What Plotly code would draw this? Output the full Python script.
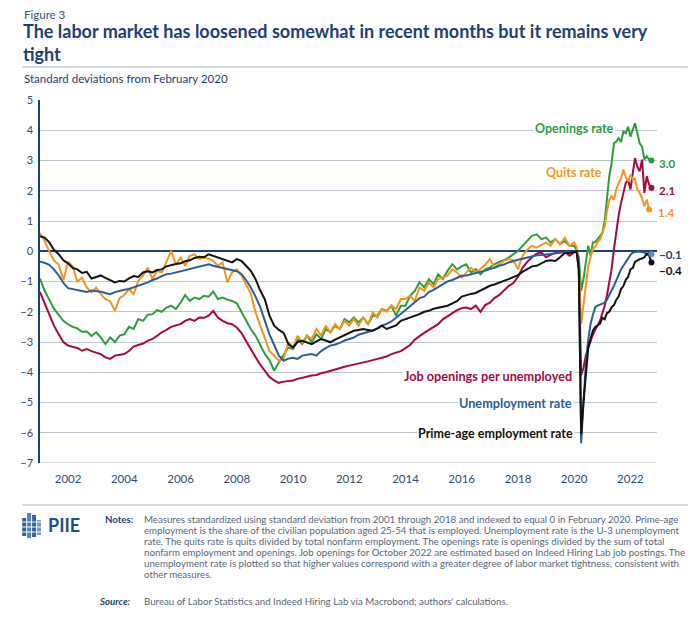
import plotly.graph_objects as go

# ---------------- data ----------------
dates_early = [f"{y}-{m:02d}-01" for y in range(2001, 2020) for m in (1, 3, 5, 7, 9, 11)]
dates_late = [f"{y}-{m:02d}-01" for y in (2020, 2021, 2022) for m in range(1, 13)][:34]
dates = dates_early + dates_late

prime_age_employment = [
    0.50, 0.45, 0.30, 0.05, -0.10, -0.30,
    -0.40, -0.55, -0.60, -0.72, -0.68, -0.90,
    -0.85, -0.80, -0.88, -0.95, -1.03, -0.98,
    -1.00, -0.90, -0.82, -0.85, -0.70, -0.66,
    -0.70, -0.62, -0.60, -0.50, -0.45, -0.42,
    -0.40, -0.33, -0.30, -0.22, -0.18, -0.20,
    -0.10, -0.15, -0.20, -0.26, -0.33, -0.37,
    -0.26, -0.32, -0.48, -0.65, -0.92, -1.30,
    -1.60, -2.13, -2.46, -2.60, -2.70, -3.07,
    -3.18, -3.00, -2.96, -3.02, -3.07, -2.98,
    -2.90, -2.95, -3.01, -2.92, -2.85, -2.79,
    -2.72, -2.63, -2.60, -2.57, -2.60, -2.63,
    -2.55, -2.46, -2.57, -2.52, -2.45, -2.30,
    -2.25, -2.20, -2.15, -2.08, -2.00, -1.97,
    -1.90, -1.86, -1.82, -1.80, -1.72, -1.65,
    -1.50, -1.45, -1.41, -1.38, -1.30, -1.22,
    -1.14, -1.10, -1.03, -0.98, -0.92, -0.85,
    -0.79, -0.68, -0.59, -0.50, -0.48, -0.40,
    -0.32, -0.30, -0.32, -0.20, -0.06, -0.06,
    -0.02, 0.00, -0.60, -6.05, -5.00, -4.00, -3.20, -2.90, -2.62, -2.50, -2.46, -2.40,
    -2.20, -2.25, -2.05, -2.00, -1.85, -1.78, -1.60, -1.50, -1.25, -1.15, -0.95, -0.85,
    -0.60, -0.55, -0.35, -0.30, -0.26, -0.24, -0.20, -0.08, -0.15, -0.37,
]

unemployment_rate = [
    -0.35, -0.38, -0.45, -0.60, -0.80, -1.05,
    -1.22, -1.25, -1.30, -1.33, -1.35, -1.30,
    -1.31, -1.34, -1.38, -1.42, -1.35, -1.30,
    -1.27, -1.25, -1.20, -1.14, -1.08, -1.03,
    -0.95, -0.90, -0.82, -0.76, -0.74, -0.70,
    -0.68, -0.62, -0.58, -0.54, -0.50, -0.46,
    -0.43, -0.48, -0.52, -0.54, -0.58, -0.62,
    -0.66, -0.75, -0.95, -1.20, -1.50, -1.85,
    -2.30, -2.75, -3.10, -3.45, -3.62, -3.55,
    -3.52, -3.56, -3.45, -3.42, -3.40, -3.45,
    -3.30, -3.20, -3.12, -3.08, -3.03, -2.95,
    -2.90, -2.85, -2.76, -2.72, -2.66, -2.62,
    -2.55, -2.46, -2.40, -2.32, -2.20, -2.08,
    -1.95, -1.82, -1.69, -1.55, -1.50, -1.35,
    -1.28, -1.18, -1.09, -1.00, -0.95, -0.88,
    -0.81, -0.80, -0.76, -0.74, -0.70, -0.64,
    -0.59, -0.55, -0.48, -0.44, -0.37, -0.32,
    -0.28, -0.25, -0.21, -0.17, -0.13, -0.12,
    -0.10, -0.10, -0.06, -0.04, -0.02, -0.02,
    -0.01, 0.00, -0.30, -6.35, -5.00, -3.70, -2.95, -2.40, -2.10, -1.85, -1.80, -1.76,
    -1.74, -1.70, -1.60, -1.47, -1.30, -1.14, -0.95, -0.81, -0.60, -0.48, -0.35, -0.22,
    -0.12, -0.04, -0.02, -0.02, -0.02, -0.04, -0.04, -0.10, -0.04, -0.10,
]

quits_rate = [
    0.60, 0.35, 0.00, -0.30, -0.45, -0.95,
    -0.35, -0.50, -1.00, -0.87, -1.20, -1.36,
    -1.20, -1.42, -1.58, -1.65, -1.97, -1.55,
    -1.45, -1.25, -1.42, -0.98, -0.81, -0.54,
    -0.92, -0.65, -0.70, -0.32, 0.01, -0.43,
    -0.21, -0.48, -0.15, -0.10, -0.26, -0.21,
    -0.25, -0.32, -0.48, -0.37, -1.03, -0.70,
    -0.60, -0.80, -1.10, -1.40, -2.02, -2.45,
    -2.90, -3.30, -3.45, -3.62, -3.55, -3.00,
    -3.18, -2.80, -3.01, -2.79, -2.90, -2.57,
    -2.79, -2.46, -2.68, -2.41, -2.57, -2.30,
    -2.46, -2.24, -2.46, -2.19, -2.41, -2.02,
    -2.19, -1.91, -2.00, -1.80, -1.91, -1.58,
    -1.58, -1.47, -1.64, -1.20, -1.31, -1.03,
    -1.20, -0.92, -0.87, -0.81, -0.59, -0.70,
    -0.87, -0.70, -0.54, -0.70, -0.59, -0.45,
    -0.26, -0.54, -0.43, -0.32, -0.26, -0.30,
    -0.59, -0.15, 0.05, 0.18, 0.12, 0.20,
    0.29, 0.18, 0.40, 0.23, 0.45, 0.18,
    0.29, 0.15, -0.40, -2.40, -1.80, -1.00, -0.50, -0.20, 0.07, 0.15, 0.30, 0.39,
    0.60, 0.83, 1.30, 1.70, 1.82, 1.70, 2.04, 2.26, 2.40, 2.70, 2.45, 2.31,
    2.53, 2.37, 2.40, 2.04, 1.93, 1.75, 1.49, 1.71, 1.38, None,
]

openings_rate = [
    -0.90, -1.30, -1.60, -1.90, -2.10, -2.30,
    -2.42, -2.50, -2.55, -2.66, -2.65, -2.80,
    -2.68, -2.85, -3.07, -2.85, -3.00, -2.79,
    -2.75, -2.50, -2.57, -2.24, -2.30, -2.10,
    -2.08, -1.95, -2.00, -1.86, -1.80, -1.91,
    -1.70, -1.45, -1.64, -1.53, -1.58, -1.47,
    -1.50, -1.33, -1.58, -1.53, -1.60, -1.64,
    -1.72, -2.00, -2.24, -2.57, -2.79, -3.12,
    -3.40, -3.60, -3.95, -3.67, -3.40, -3.18,
    -3.23, -2.90, -3.07, -2.79, -3.01, -2.74,
    -2.90, -2.57, -2.68, -2.46, -2.57, -2.24,
    -2.35, -2.19, -2.35, -2.19, -2.41, -2.13,
    -2.13, -1.91, -1.97, -1.80, -2.13, -1.80,
    -1.80, -1.47, -1.31, -1.03, -1.20, -0.92,
    -1.09, -0.76, -0.92, -0.65, -0.43, -0.60,
    -0.50, -0.43, -0.70, -0.59, -0.76, -0.60,
    -0.54, -0.43, -0.35, -0.30, -0.21, -0.10,
    0.01, 0.18, 0.34, 0.51, 0.56, 0.40,
    0.45, 0.29, 0.40, 0.23, 0.34, 0.18,
    0.18, 0.05, -0.20, -1.30, -0.92, -0.30, 0.18, -0.15, 0.29, 0.30, 0.39, 0.50,
    0.61, 1.00, 1.71, 2.48, 2.92, 3.57, 3.63, 3.74, 3.60, 3.96, 3.90, 4.12,
    3.79, 4.00, 4.23, 3.90, 3.57, 3.46, 3.03, 3.14, 3.03, 3.00,
]

openings_per_unemployed = [
    -1.35, -1.70, -2.05, -2.46, -2.74, -3.00,
    -3.12, -3.15, -3.20, -3.29, -3.23, -3.30,
    -3.34, -3.40, -3.51, -3.56, -3.45, -3.42,
    -3.40, -3.30, -3.15, -3.10, -3.05, -2.96,
    -2.90, -2.80, -2.68, -2.60, -2.50, -2.45,
    -2.41, -2.30, -2.24, -2.30, -2.19, -2.20,
    -2.13, -1.97, -2.19, -2.30, -2.38, -2.41,
    -2.52, -2.70, -2.95, -3.23, -3.50, -3.75,
    -3.95, -4.16, -4.27, -4.35, -4.31, -4.29,
    -4.27, -4.22, -4.18, -4.14, -4.11, -4.09,
    -4.03, -4.00, -3.95, -3.90, -3.86, -3.82,
    -3.78, -3.75, -3.72, -3.68, -3.64, -3.60,
    -3.56, -3.52, -3.48, -3.40, -3.34, -3.30,
    -3.20, -3.10, -2.92, -2.80, -2.70, -2.60,
    -2.50, -2.41, -2.25, -2.15, -2.05, -1.95,
    -1.88, -1.86, -1.91, -1.80, -2.00, -1.78,
    -1.70, -1.55, -1.45, -1.30, -1.15, -1.05,
    -0.85, -0.55, -0.35, -0.20, -0.08, -0.04,
    -0.20, -0.12, -0.05, 0.01, -0.02, -0.15,
    -0.04, 0.00, -0.60, -4.10, -3.85, -3.45, -3.20, -2.95, -2.75, -2.60, -2.46, -2.30,
    -2.05, -1.80, -1.47, -1.03, -0.59, 0.07, 0.72, 1.20, 1.60, 1.90, 2.26, 2.37,
    2.04, 2.60, 3.08, 2.80, 2.64, 3.03, 1.93, 2.48, 2.20, 2.10,
]

x_tick_years = [2002, 2004, 2006, 2008, 2010, 2012, 2014, 2016, 2018, 2020, 2022]
x_tick_labels = [str(y) for y in x_tick_years]
y_ticks = list(range(-7, 6))

end_labels = {"openings": "3.0", "ratio": "2.1", "quits": "1.4", "unemp": "\u22120.1", "emp": "\u22120.4"}

# ---------------- style ----------------
GREEN = "#2a9d3c"
ORANGE = "#f7941d"
CRIMSON = "#a8093f"
BLUE = "#2a5e94"
BLACK = "#111111"
NAVY = "#1d4074"
GRID = "#bcc7d3"
NOTE = "#56667a"
FONT = "Lato"

# page offset (browser body margin)
OFF = 8
# plot area in page pixels
L, R, T, B = 33, 657, 100, 463
W, H = R - L, B - T
FIG_W, FIG_H = 700 - OFF, 620 - OFF


def px(xp):
    return (xp - L) / W


def py(yp):
    return (B - yp) / H


series = [
    ("Job openings per unemployed", openings_per_unemployed, CRIMSON),
    ("Openings rate", openings_rate, GREEN),
    ("Quits rate", quits_rate, ORANGE),
    ("Unemployment rate", unemployment_rate, BLUE),
    ("Prime-age employment rate", prime_age_employment, BLACK),
]

fig = go.Figure()
for name, vals, col in series:
    fig.add_trace(go.Scatter(x=dates, y=vals, mode="lines", name=name,
                             line=dict(color=col, width=2), hoverinfo="skip"))
end_colors = [CRIMSON, GREEN, ORANGE, "#5b8fc7", BLACK]
for (name, vals, col), mc in zip(series, end_colors):
    idx = max(i for i, v in enumerate(vals) if v is not None)
    fig.add_trace(go.Scatter(x=[dates[idx]], y=[vals[idx]], mode="markers",
                             marker=dict(color=mc, size=6), hoverinfo="skip"))

ann = []


def text(x, y, s, size, color, xanchor="left", bold=False, italic=False, bg=None):
    if bold:
        s = f"<b>{s}</b>"
    if italic:
        s = f"<i>{s}</i>"
    d = dict(x=x, y=y, xref="paper", yref="paper", text=s, showarrow=False,
             xanchor=xanchor, yanchor="middle", align=xanchor if xanchor != "center" else "center",
             font=dict(family=FONT, size=size, color=color), borderpad=1)
    if bg:
        d["bgcolor"] = bg
    ann.append(d)


# header
text(px(15), py(14), "Figure 3", 11.5, "#34547c")
text(px(14), py(42.5),
     "The labor market has loosened somewhat in recent months but it remains very<br>tight",
     18, NAVY, bold=True)
text(px(15), py(79), "Standard deviations from February 2020", 11.5, NAVY)

# series labels
text(px(616), py(128.5), "Openings rate", 12.5, GREEN, xanchor="right", bold=True, bg="white")
text(px(603), py(172.7), "Quits rate", 12.5, ORANGE, xanchor="right", bold=True, bg="white")
text(px(573), py(375.7), "Job openings per unemployed", 12.7, CRIMSON, xanchor="right", bold=True, bg="white")
text(px(573), py(402.7), "Unemployment rate", 12.7, BLUE, xanchor="right", bold=True, bg="white")
text(px(574), py(433.3), "Prime-age employment rate", 12.5, BLACK, xanchor="right", bold=True, bg="white")

# end values
text(px(657), py(163.3), end_labels["openings"], 11.5, GREEN, bold=True)
text(px(657), py(190.7), end_labels["ratio"], 11.5, CRIMSON, bold=True)
text(px(656), py(212.7), end_labels["quits"], 11.5, ORANGE, bold=True)
text(px(657), py(254.3), end_labels["unemp"], 11.5, NAVY, bold=True)
text(px(657), py(270.0), end_labels["emp"], 11.5, BLACK, bold=True)

# footer
notes = [
    "Measures standardized using standard deviation from 2001 through 2018 and indexed to equal 0 in February 2020. Prime-age",
    "employment is the share of the civilian population aged 25-54 that is employed. Unemployment rate is the U-3 unemployment",
    "rate. The quits rate is quits divided by total nonfarm employment. The openings rate is openings divided by the sum of total",
    "nonfarm employment and openings. Job openings for October 2022 are estimated based on Indeed Hiring Lab job postings. The",
    "unemployment rate is plotted so that higher values correspond with a greater degree of labor market tightness, consistent with",
    "other measures.",
]
text(px(129), py(519), "Notes:", 9.7, NAVY, xanchor="right", bold=True)
for i, line in enumerate(notes):
    text(px(136), py(519 + 11 * i), line, 9.7, NOTE)
text(px(127), py(601), "Source:", 9.7, NAVY, xanchor="right", bold=True, italic=True)
text(px(136), py(601), "Bureau of Labor Statistics and Indeed Hiring Lab via Macrobond; authors' calculations.", 9.7, NOTE)
text(px(39), py(525), "PIIE", 18, "#1f4e8c", bold=True)

shapes = [
    dict(type="line", xref="paper", yref="paper", x0=px(15), x1=px(688), y0=py(67), y1=py(67),
         line=dict(color="#c3ccd6", width=1.5)),
    dict(type="line", xref="paper", yref="paper", x0=px(15), x1=px(688), y0=py(505), y1=py(505),
         line=dict(color="#c3ccd6", width=1.5)),
    dict(type="line", xref="paper", yref="y", x0=0, x1=1, y0=-7, y1=-7,
         line=dict(color=GRID, width=1.2), layer="below"),
]
# simple logo glyph
for (x0, x1, y0, y1, c) in [(15, 19, 518, 536, "#2d63a8"), (20, 24, 513, 538, "#4a7fc0"),
                            (25, 29, 515, 537, "#2d63a8"), (30, 34, 520, 535, "#6f9bd0")]:
    shapes.append(dict(type="rect", xref="paper", yref="paper", x0=px(x0), x1=px(x1),
                       y0=py(y1), y1=py(y0), fillcolor=c, line=dict(width=0)))
for yy in (522, 527, 532):
    shapes.append(dict(type="line", xref="paper", yref="paper", x0=px(15), x1=px(34),
                       y0=py(yy), y1=py(yy), line=dict(color="white", width=1)))

fig.update_layout(
    width=FIG_W, height=FIG_H,
    margin=dict(l=L - OFF, r=FIG_W - (R - OFF), t=T - OFF, b=FIG_H - (B - OFF)),
    paper_bgcolor="white", plot_bgcolor="white",
    showlegend=False,
    annotations=ann, shapes=shapes,
    font=dict(family=FONT, color=NAVY),
    xaxis=dict(type="date", range=["2001-01-01", "2022-12-12"],
               tickvals=[f"{y}-01-01" for y in x_tick_years], ticktext=x_tick_labels,
               showgrid=False, zeroline=False, showline=False,
               ticks="outside", ticklen=5, tickcolor="rgba(0,0,0,0)",
               tickfont=dict(family=FONT, size=11.5, color="#2e4d73")),
    yaxis=dict(range=[-7, 5], tickvals=y_ticks, showgrid=True, gridcolor=GRID, gridwidth=1.2,
               zeroline=True, zerolinecolor=NAVY, zerolinewidth=1.5,
               showline=True, linecolor=NAVY, linewidth=1.5,
               ticks="outside", ticklen=3, tickcolor="rgba(0,0,0,0)",
               tickfont=dict(family=FONT, size=11, color="#2e4d73")),
)

fig.write_html("out.html")
